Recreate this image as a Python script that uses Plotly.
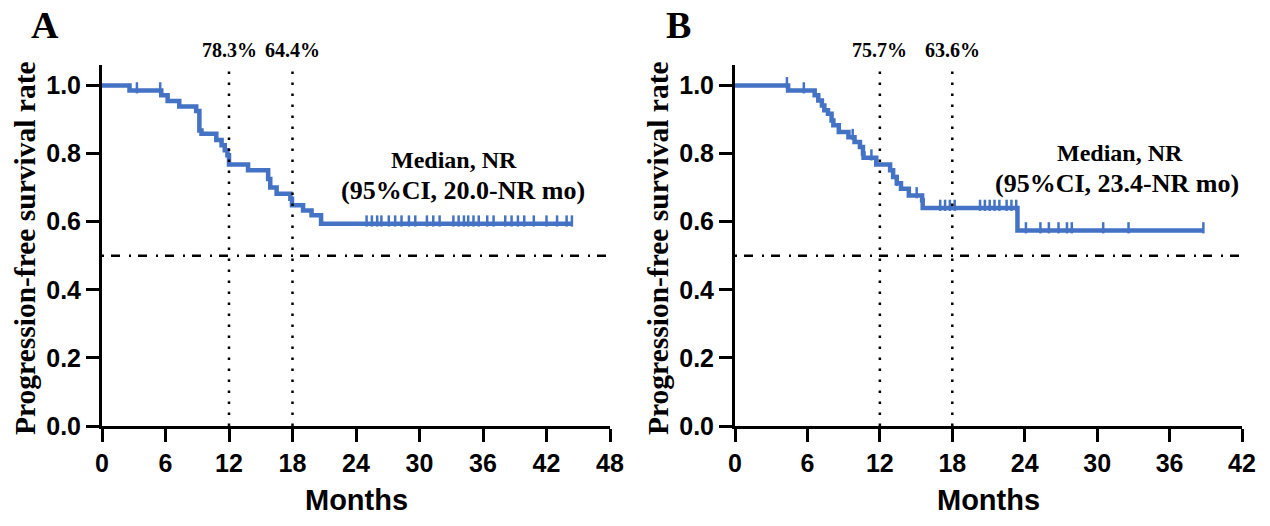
import plotly.graph_objects as go

# ---------------- Data ----------------
# Panel A: Kaplan-Meier steps (event times in months, survival after step)
a_times = [0, 2.6, 5.6, 6.2, 7.3, 8.9, 9.2, 9.4, 10.8, 11.3, 11.6, 11.85, 12.0, 13.8, 15.7, 15.9, 16.5, 17.8, 17.95, 19.0, 19.8, 20.7, 44.4]
a_surv = [1.0, 0.985, 0.971, 0.954, 0.938, 0.925, 0.868, 0.858, 0.840, 0.824, 0.810, 0.795, 0.768, 0.751, 0.725, 0.700, 0.682, 0.667, 0.648, 0.633, 0.619, 0.594, 0.594]
a_censor = [3.3, 5.5, 25.0, 25.5, 26.0, 26.4, 27.1, 27.7, 28.3, 29.0, 29.6, 30.7, 31.3, 31.9,
            33.2, 33.7, 34.2, 34.6, 35.1, 35.6, 36.4, 37.0, 38.1, 38.7, 39.3, 39.9, 40.8, 42.0, 43.0, 43.9, 44.4]

# Panel B
b_times = [0, 4.4, 6.6, 6.9, 7.2, 7.4, 7.7, 8.0, 8.15, 8.6, 9.4, 9.9, 10.35, 10.6, 10.65, 11.7, 12.85, 13.1, 13.4, 13.75, 14.4, 15.5, 15.55, 23.4, 38.8]
b_surv = [1.0, 0.985, 0.971, 0.956, 0.941, 0.927, 0.917, 0.897, 0.883, 0.863, 0.848, 0.834, 0.819, 0.800, 0.788, 0.768, 0.751, 0.731, 0.713, 0.697, 0.677, 0.663, 0.640, 0.574, 0.574]
b_censor = [4.3, 5.7, 9.75, 11.3, 13.4, 15.05, 17.0, 17.4, 17.8, 18.2, 20.3, 20.7, 21.1, 21.5, 21.9, 22.5, 22.9, 23.3,
            24.1, 25.3, 26.0, 26.8, 27.5, 27.9, 30.5, 32.6, 38.8]

landmarks = [12, 18]
a_landmark_labels = ["78.3%", "64.4%"]
b_landmark_labels = ["75.7%", "63.6%"]
a_median_lines = ["Median, NR", "(95%CI, 20.0-NR mo)"]
b_median_lines = ["Median, NR", "(95%CI, 23.4-NR mo)"]
a_xmax, b_xmax = 48, 42
ytick_vals = [0.0, 0.2, 0.4, 0.6, 0.8, 1.0]

BLUE = "#4472C4"
SANS = "Liberation Sans Narrow, Arial Narrow, Liberation Sans, Arial"
SERIF = "Liberation Serif, Times New Roman, serif"
W, H = 1270, 526


def step_value(times, surv, t):
    v = surv[0]
    for ti, si in zip(times, surv):
        if ti <= t:
            v = si
    return v


fig = go.Figure()

panels = [
    ("x", "y", a_times, a_surv, a_censor, a_xmax),
    ("x2", "y2", b_times, b_surv, b_censor, b_xmax),
]
for xr, yr, t, s, c, xm in panels:
    fig.add_trace(go.Scatter(x=t, y=s, mode="lines", line=dict(color=BLUE, width=4.5, shape="hv"),
                             xaxis=xr, yaxis=yr, showlegend=False, hoverinfo="skip"))
    fig.add_trace(go.Scatter(x=c, y=[step_value(t, s, ci) + 0.008 for ci in c], mode="markers",
                             marker=dict(symbol="line-ns", size=8, line=dict(color=BLUE, width=2.5)),
                             xaxis=xr, yaxis=yr, showlegend=False, hoverinfo="skip"))
    # median reference line at 0.5
    fig.add_shape(type="line", xref=xr, yref=yr, x0=0, x1=xm, y0=0.5, y1=0.5,
                  line=dict(color="black", width=2.5, dash="2px,7px,9px,9px"))
    for lm in landmarks:
        fig.add_shape(type="line", xref=xr, yref=yr, x0=lm, x1=lm, y0=0, y1=1.05,
                      line=dict(color="black", width=2.5, dash="2.5px,8.5px"))

yd = [(H - 426) / H, (H - 65) / H]
axis_common = dict(showline=True, linewidth=3, linecolor="black", ticks="outside", ticklen=13,
                   tickwidth=3, tickcolor="black", showgrid=False, zeroline=False, automargin=False,
                   tickfont=dict(family=SANS, size=25, color="black", weight="bold"))

fig.update_layout(
    width=W, height=H, margin=dict(l=0, r=0, t=0, b=0, autoexpand=False),
    plot_bgcolor="white", paper_bgcolor="white", showlegend=False,
    xaxis=dict(domain=[102 / W, 610 / W], range=[0, a_xmax], tickvals=list(range(0, a_xmax + 1, 6)),
               anchor="y", **axis_common),
    yaxis=dict(domain=yd, range=[0, 1.06], tickvals=ytick_vals, tickformat=".1f", anchor="x", **axis_common),
    xaxis2=dict(domain=[735 / W, 1242 / W], range=[0, b_xmax], tickvals=list(range(0, b_xmax + 1, 6)),
                anchor="y2", **axis_common),
    yaxis2=dict(domain=yd, range=[0, 1.06], tickvals=ytick_vals, tickformat=".1f", anchor="x2", **axis_common),
)


def text_ann(x, y, text, size, family=SERIF, xref="paper", yref="paper", angle=0):
    return dict(x=x, y=y, xref=xref, yref=yref, text=text, showarrow=False, textangle=angle,
                xanchor="center", yanchor="middle",
                font=dict(family=family, size=size, color="black", weight="bold"))


ann = []
for xr, labels, med, (l1x, l1y, l2x, l2y) in [
        ("x", a_landmark_labels, a_median_lines, (454, 160, 463, 190)),
        ("x2", b_landmark_labels, b_median_lines, (1120, 153, 1117, 183))]:
    for lm, lab in zip(landmarks, labels):
        ann.append(text_ann(lm, (H - 50) / H, lab, 20, xref=xr))
    ann.append(text_ann(l1x / W, (H - l1y) / H, med[0], 24))
    ann.append(text_ann(l2x / W, (H - l2y) / H, med[1], 26))

for px, letter in [(45, "A"), (678, "B")]:
    ann.append(text_ann(px / W, (H - 25) / H, letter, 38))
for px in [25, 658]:
    ann.append(text_ann(px / W, (H - 248) / H, "Progression-free survival rate", 29.5, angle=-90))
for px in [356, 988]:
    ann.append(text_ann(px / W, (H - 500) / H, "Months", 29, family=SANS))
fig.update_layout(annotations=ann)

fig.write_html("out.html", config={"displayModeBar": False},
               post_script="document.body.style.margin='0';")
